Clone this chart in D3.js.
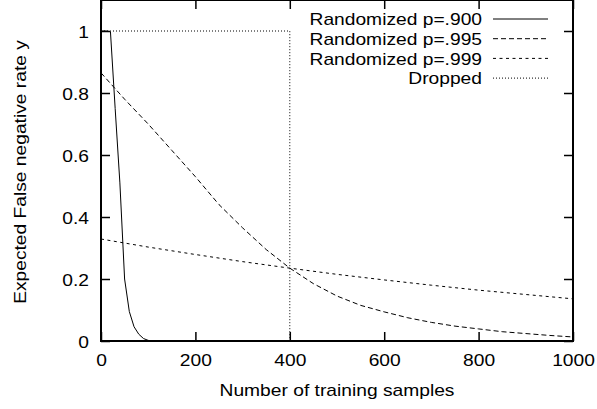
<!DOCTYPE html>
<html>
<head>
<meta charset="utf-8">
<script src="https://cdn.jsdelivr.net/npm/d3@7"></script>
<style>
  body { margin: 0; background: #fff; }
  text { font-family: "Liberation Sans", Arial, sans-serif; fill: #000; }
</style>
</head>
<body>
<svg id="chart" width="597" height="409"></svg>
<script>
// ---- data ----
const xTicks = [0, 200, 400, 600, 800, 1000];
const yTicks = [0, 0.2, 0.4, 0.6, 0.8, 1];
const yTickLabels = ["0", "0.2", "0.4", "0.6", "0.8", "1"];

const p900X = [0, 10, 20, 30, 40, 50, 60, 70, 80, 90, 100, 110, 1000];
const p900Y = [1, 1, 0.998, 0.75, 0.51, 0.2, 0.095, 0.046, 0.022, 0.008, 0.002, 0, 0];

const p995X = [0, 50, 100, 150, 200, 250, 300, 350, 400, 450, 500, 550, 600, 650, 700, 750, 800, 850, 900, 950, 1000];
const p995Y = [0.865, 0.78, 0.70, 0.615, 0.53, 0.44, 0.365, 0.295, 0.235, 0.185, 0.145, 0.115, 0.094, 0.075, 0.06, 0.048, 0.039, 0.03, 0.024, 0.018, 0.013];

const p999X = [0, 100, 200, 300, 400, 500, 600, 700, 800, 900, 1000];
const p999Y = [0.329, 0.303, 0.279, 0.256, 0.235, 0.215, 0.197, 0.180, 0.164, 0.150, 0.136];

const droppedX = [0, 400, 400];
const droppedY = [1, 1, 0];

const seriesNames = ["Randomized p=.900", "Randomized p=.995", "Randomized p=.999", "Dropped"];
const xLabel = "Number of training samples";
const yLabel = "Expected False negative rate y";

// ---- layout ----
const svg = d3.select("#chart");
const L = 101, R = 573, T = 0, B = 341;
const x = d3.scaleLinear().domain([0, 1000]).range([L, R]);
const y = d3.scaleLinear().domain([0, 1.1]).range([B, T]);
const fs = 17;
const stretch = 1.13;

function widen(sel) {
  sel.each(function () {
    const w = this.getComputedTextLength();
    if (w > 0) d3.select(this).attr("textLength", w * stretch).attr("lengthAdjust", "spacingAndGlyphs");
  });
}

const dashes = [null, "5,3", "3,3.5", "1,2"];
const series = [
  p900X.map((v, i) => [v, p900Y[i]]),
  p995X.map((v, i) => [v, p995Y[i]]),
  p999X.map((v, i) => [v, p999Y[i]]),
  droppedX.map((v, i) => [v, droppedY[i]])
];

const line = d3.line().x(d => x(d[0])).y(d => y(d[1]));
series.forEach((s, i) => {
  svg.append("path").attr("d", line(s))
    .attr("fill", "none").attr("stroke", "#000").attr("stroke-width", 1)
    .attr("stroke-dasharray", dashes[i]);
});

// axes with inward ticks
const tl = 9;
const gB = svg.append("g").attr("transform", `translate(0,${B})`)
  .call(d3.axisBottom(x).tickValues(xTicks).tickSize(-tl).tickPadding(14).tickFormat(d3.format("d")));
const gT = svg.append("g").attr("transform", `translate(0,${T})`)
  .call(d3.axisTop(x).tickValues(xTicks).tickSize(-tl).tickFormat(""));
const gL = svg.append("g").attr("transform", `translate(${L},0)`)
  .call(d3.axisLeft(y).tickValues(yTicks).tickSize(-tl).tickPadding(12).tickFormat((d, i) => yTickLabels[i]));
const gR = svg.append("g").attr("transform", `translate(${R},0)`)
  .call(d3.axisRight(y).tickValues(yTicks).tickSize(-tl).tickFormat(""));
[gB, gT, gL, gR].forEach(g => {
  g.select(".domain").remove();
  g.selectAll(".tick line").attr("stroke", "#000").attr("stroke-width", 1.5);
  g.selectAll("text").style("font-size", fs + "px").attr("fill", "#000")
    .style("font-family", '"Liberation Sans", Arial, sans-serif');
});
gB.selectAll("text").attr("dy", "0").attr("y", 25);
gL.selectAll("text").attr("dy", "0.36em");
widen(gB.selectAll("text"));
widen(gL.selectAll("text"));

// frame
svg.append("rect").attr("x", L).attr("y", T).attr("width", R - L).attr("height", B - T)
  .attr("fill", "none").attr("stroke", "#000").attr("stroke-width", 2);

// axis labels
svg.append("text").attr("x", (L + R) / 2).attr("y", 396).attr("text-anchor", "middle")
  .style("font-size", fs + "px").text(xLabel).call(widen);
svg.append("text").attr("transform", `translate(26,172) rotate(-90)`).attr("text-anchor", "middle")
  .style("font-size", fs + "px").text(yLabel).call(widen);

// legend
const legY0 = 19, legDy = 19.7;
seriesNames.forEach((name, i) => {
  const yy = legY0 + i * legDy;
  svg.append("text").attr("x", 482).attr("y", yy).attr("dy", "0.36em")
    .attr("text-anchor", "end").style("font-size", fs + "px").text(name).call(widen);
  svg.append("line").attr("x1", 493).attr("x2", 548).attr("y1", yy).attr("y2", yy)
    .attr("stroke", "#000").attr("stroke-width", 1).attr("stroke-dasharray", dashes[i]);
});
</script>
</body>
</html>
